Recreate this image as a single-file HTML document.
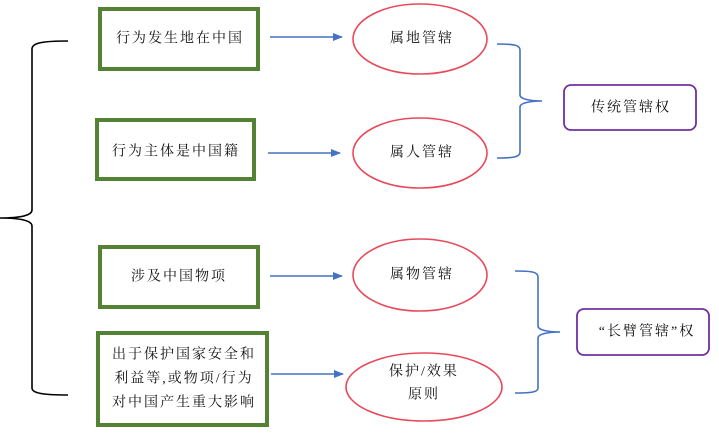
<!DOCTYPE html>
<html>
<head>
<meta charset="utf-8">
<style>
html,body{margin:0;padding:0;background:#fff;}
svg{display:block;}
text{font-family:"Liberation Serif","Noto Serif CJK SC",serif;font-size:14px;fill:#111;letter-spacing:2px;}
</style>
</head>
<body>
<svg width="719" height="440" viewBox="0 0 719 440" xmlns="http://www.w3.org/2000/svg">
  <defs>
    <marker id="ah" markerWidth="10" markerHeight="8" refX="9" refY="4" orient="auto" markerUnits="userSpaceOnUse">
      <path d="M0,0 L10,4 L0,8 Z" fill="#4472c4"/>
    </marker>
  </defs>

  <!-- left brace -->
  <path d="M68,41 C42,41 32,43 32,49 L32,210 C32,215 22,218 0,218 C22,218 32,221 32,226 L32,388 C32,393 42,395 68,395" fill="none" stroke="#000" stroke-width="1.6"/>

  <!-- green boxes -->
  <rect x="100" y="9" width="158" height="60" fill="#fff" stroke="#548235" stroke-width="4"/>
  <rect x="97" y="120" width="157" height="59" fill="#fff" stroke="#548235" stroke-width="4"/>
  <rect x="100" y="247" width="158" height="60" fill="#fff" stroke="#548235" stroke-width="4"/>
  <rect x="98" y="333" width="169" height="92" fill="#fff" stroke="#548235" stroke-width="4"/>

  <text x="180" y="39" text-anchor="middle" dominant-baseline="central">行为发生地在中国</text>
  <text x="176" y="152" text-anchor="middle" dominant-baseline="central">行为主体是中国籍</text>
  <text x="179" y="277" text-anchor="middle" dominant-baseline="central">涉及中国物项</text>
  <text x="184" y="355" text-anchor="middle" dominant-baseline="central">出于保护国家安全和</text>
  <text x="184" y="379" text-anchor="middle" dominant-baseline="central">利益等,或物项/行为</text>
  <text x="184" y="403" text-anchor="middle" dominant-baseline="central">对中国产生重大影响</text>

  <!-- arrows -->
  <line x1="270" y1="37" x2="342" y2="37" stroke="#4472c4" stroke-width="1.6" marker-end="url(#ah)"/>
  <line x1="268" y1="153" x2="340" y2="153" stroke="#4472c4" stroke-width="1.6" marker-end="url(#ah)"/>
  <line x1="270" y1="276" x2="342" y2="276" stroke="#4472c4" stroke-width="1.6" marker-end="url(#ah)"/>
  <line x1="271" y1="374" x2="343" y2="374" stroke="#4472c4" stroke-width="1.6" marker-end="url(#ah)"/>

  <!-- ellipses -->
  <ellipse cx="420" cy="39" rx="67" ry="35" fill="#fff" stroke="#e8495a" stroke-width="1.6"/>
  <ellipse cx="420" cy="153" rx="67" ry="35" fill="#fff" stroke="#e8495a" stroke-width="1.6"/>
  <ellipse cx="420" cy="275" rx="67" ry="36" fill="#fff" stroke="#e8495a" stroke-width="1.6"/>
  <ellipse cx="424" cy="387" rx="78" ry="34" fill="#fff" stroke="#e8495a" stroke-width="1.6"/>

  <text x="422" y="39" text-anchor="middle" dominant-baseline="central">属地管辖</text>
  <text x="422" y="153" text-anchor="middle" dominant-baseline="central">属人管辖</text>
  <text x="422" y="275" text-anchor="middle" dominant-baseline="central">属物管辖</text>
  <text x="424" y="372" text-anchor="middle" dominant-baseline="central">保护/效果</text>
  <text x="424" y="395" text-anchor="middle" dominant-baseline="central">原则</text>

  <!-- right braces -->
  <path d="M497,44 C514,44 520,45 520,50 L520,95 C520,99 530,101 542,101 C530,101 520,103 520,107 L520,152 C520,157 514,158 497,158" fill="none" stroke="#4472c4" stroke-width="1.6"/>
  <path d="M515,271 C532,271 538,272 538,277 L538,326 C538,330 548,332 560,332 C548,332 538,334 538,338 L538,388 C538,392 532,393 515,393" fill="none" stroke="#4472c4" stroke-width="1.6"/>

  <!-- purple boxes -->
  <rect x="564" y="85" width="132" height="45" rx="7" ry="7" fill="#fff" stroke="#7030a0" stroke-width="1.8"/>
  <rect x="577" y="309" width="132" height="46" rx="7" ry="7" fill="#fff" stroke="#7030a0" stroke-width="1.8"/>
  <text x="631" y="108" text-anchor="middle" dominant-baseline="central">传统管辖权</text>
  <text x="647" y="332" text-anchor="middle" dominant-baseline="central">“长臂管辖”权</text>
</svg>
</body>
</html>
